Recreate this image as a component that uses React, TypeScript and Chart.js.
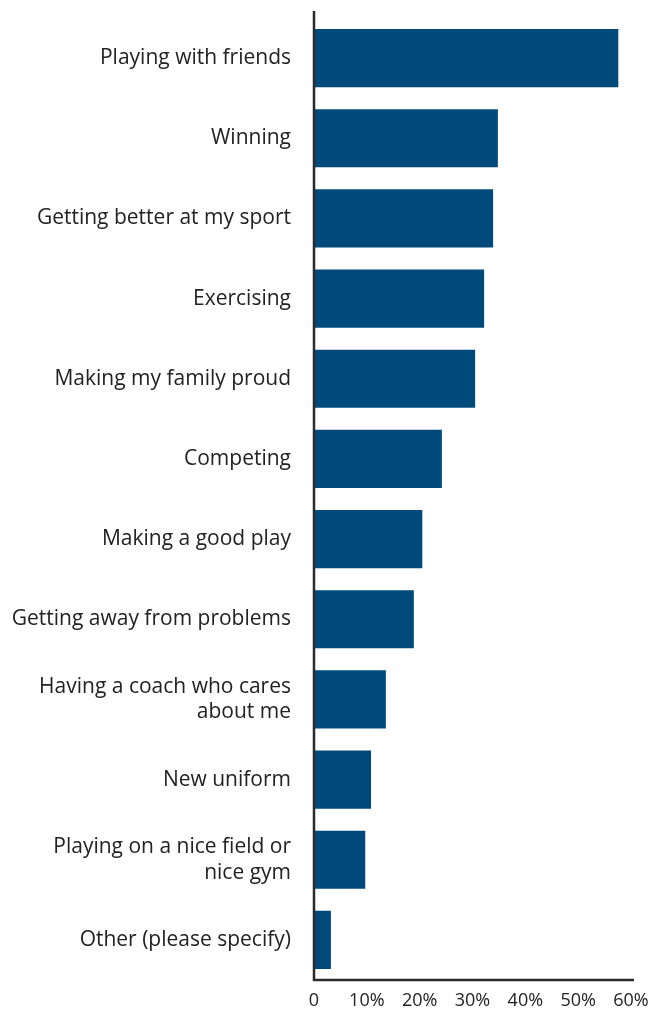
import React, { useEffect, useRef } from "react";
import { Chart, registerables } from "chart.js";

Chart.register(...registerables);

const categories: (string | string[])[] = [
  "Playing with friends",
  "Winning",
  "Getting better at my sport",
  "Exercising",
  "Making my family proud",
  "Competing",
  "Making a good play",
  "Getting away from problems",
  ["Having a coach who cares", "about me"],
  "New uniform",
  ["Playing on a nice field or", "nice gym"],
  "Other (please specify)",
];

const values: number[] = [57.6, 34.8, 33.9, 32.2, 30.5, 24.2, 20.5, 18.9, 13.6, 10.8, 9.7, 3.2];

const xTicks: number[] = [0, 10, 20, 30, 40, 50, 60];

const BAR_COLOR = "#004a7b";
const AXIS_COLOR = "#2b2b2b";
const TEXT_COLOR = "#222222";
const FONT = "'Open Sans', 'Noto Sans', sans-serif";

const axisLines = {
  id: "axisLines",
  afterDatasetsDraw(chart: any) {
    const { ctx, chartArea } = chart;
    ctx.save();
    ctx.strokeStyle = AXIS_COLOR;
    ctx.lineWidth = 2.5;
    ctx.beginPath();
    ctx.moveTo(chartArea.left, chartArea.top - 7);
    ctx.lineTo(chartArea.left, chartArea.bottom);
    ctx.lineTo(chartArea.right + 3, chartArea.bottom);
    ctx.stroke();
    ctx.restore();
  },
};

function zeroPad(scale: any) {
  scale.paddingTop = 0;
  scale.paddingBottom = 0;
  scale.paddingLeft = 0;
  scale.paddingRight = 0;
}

export default function App() {
  const ref = useRef<HTMLCanvasElement | null>(null);
  useEffect(() => {
    document.body.style.margin = "0";
    const canvas = ref.current!;
    const chart = new Chart(canvas, {
      type: "bar",
      data: {
        labels: categories,
        datasets: [
          {
            data: values,
            backgroundColor: BAR_COLOR,
            borderWidth: 0,
            barPercentage: 0.725,
            categoryPercentage: 1,
          },
        ],
      },
      options: {
        indexAxis: "y",
        animation: false,
        responsive: false,
        maintainAspectRatio: false,
        layout: { padding: { top: 18, right: 21, left: 0, bottom: 0 } },
        plugins: { legend: { display: false }, tooltip: { enabled: false } },
        scales: {
          x: {
            min: 0,
            max: 60,
            afterBuildTicks(scale: any) {
              scale.ticks = xTicks.map((v) => ({ value: v }));
            },
            afterFit(scale: any) {
              scale.height = 30;
              zeroPad(scale);
            },
            grid: { display: false, drawTicks: false },
            border: { display: false },
            ticks: {
              padding: 10,
              color: TEXT_COLOR,
              font: { family: FONT, size: 18 },
              maxRotation: 0,
              callback: (v: any) => (Number(v) === 0 ? "0" : v + "%"),
            },
          },
          y: {
            afterFit(scale: any) {
              scale.width = 314;
              zeroPad(scale);
            },
            grid: { display: false, drawTicks: false },
            border: { display: false },
            ticks: {
              padding: 23,
              color: TEXT_COLOR,
              font: { family: FONT, size: 21, lineHeight: 1.22 },
              autoSkip: false,
            },
          },
        },
      },
      plugins: [axisLines],
    });
    return () => chart.destroy();
  }, []);
  return (
    <div style={{ width: 652, height: 1010 }}>
      <canvas ref={ref} width={652} height={1010} style={{ display: "block" }} />
    </div>
  );
}
